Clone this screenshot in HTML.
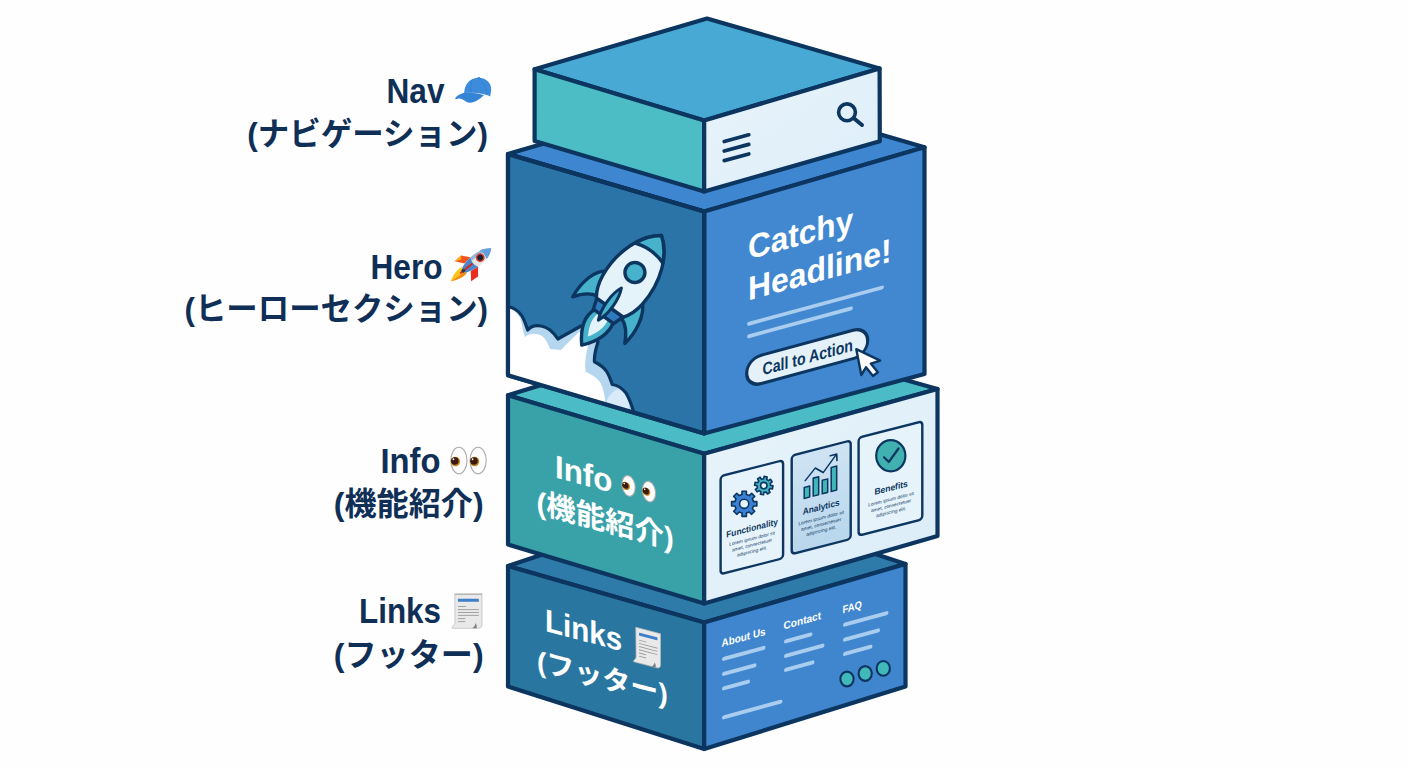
<!DOCTYPE html>
<html lang="ja">
<head>
<meta charset="utf-8">
<title>Landing page structure</title>
<style>
html,body{margin:0;padding:0;background:#ffffff;}
body{width:1408px;height:768px;overflow:hidden;font-family:"Liberation Sans",sans-serif;}
svg{display:block;}
</style>
</head>
<body>
<svg width="1408" height="768" viewBox="0 0 1408 768" role="img" aria-label="Landing page structure: Nav (ナビゲーション), Hero (ヒーローセクション), Info (機能紹介), Links (フッター)">
<rect x="0" y="0" width="1408" height="768" fill="#fefefe"/>
<defs>
<linearGradient id="gNavR" x1="0" y1="0" x2="1" y2="1"><stop offset="0" stop-color="#e9f4fb"/><stop offset="1" stop-color="#dcedf8"/></linearGradient>
<linearGradient id="gInfoR" x1="0" y1="0" x2="1" y2="1"><stop offset="0" stop-color="#e8f4fb"/><stop offset="1" stop-color="#dbecf7"/></linearGradient>
<linearGradient id="gCard2" x1="0" y1="0" x2="0" y2="1"><stop offset="0" stop-color="#cfe4f4"/><stop offset="1" stop-color="#b9d6ec"/></linearGradient>
<clipPath id="heroL"><polygon points="508,154 704,211 704,433.5 508,375.3"/></clipPath>
</defs>
<polygon points="508,566 709,499 905.5,564 704.2,622.5" fill="#2e7aa8" stroke="#0c3660" stroke-width="4.2" stroke-linejoin="round" />
<polygon points="508,566 704.2,622.5 704.2,749 508,686.5" fill="#2977a1" stroke="#0c3660" stroke-width="4.2" stroke-linejoin="round" />
<polygon points="704.2,622.5 905.5,564 905.5,686.5 704.2,749" fill="#4086ce" stroke="#0c3660" stroke-width="4.2" stroke-linejoin="round" />
<polygon points="508,395.2 724,329 937.5,389 704.2,453.8" fill="#4bbcc6" stroke="#0c3660" stroke-width="4.2" stroke-linejoin="round" />
<polygon points="508,395.2 704.2,453.8 704.2,603.5 508,544.5" fill="#39a2a9" stroke="#0c3660" stroke-width="4.2" stroke-linejoin="round" />
<polygon points="704.2,453.8 937.5,389 937.5,536 704.2,603.5" fill="url(#gInfoR)" stroke="#0c3660" stroke-width="4.2" stroke-linejoin="round" />
<polygon points="508,154 727.7,90 924.5,147.3 704.2,211.5" fill="#3f86d0" stroke="#0c3660" stroke-width="4.2" stroke-linejoin="round" />
<polygon points="508,154 704.2,211.5 704.2,433.5 508,375.3" fill="#2b74a8" stroke="#0c3660" stroke-width="4.2" stroke-linejoin="round" />
<polygon points="704.2,211.5 924.5,147.3 924.5,374 704.2,433.5" fill="#4288d1" stroke="#0c3660" stroke-width="4.2" stroke-linejoin="round" />
<polygon points="534.6,69.2 707,18.5 879.6,68.5 704.2,120.5" fill="#48a9d5" stroke="#0c3660" stroke-width="4.2" stroke-linejoin="round" />
<polygon points="534.6,69.2 704.2,120.5 704.2,191.5 534.6,141" fill="#4cbdc5" stroke="#0c3660" stroke-width="4.2" stroke-linejoin="round" />
<polygon points="704.2,120.5 879.6,68.5 879.8,141.2 704.2,191.5" fill="url(#gNavR)" stroke="#0c3660" stroke-width="4.2" stroke-linejoin="round" />
<g stroke="#0c3660" stroke-width="3.7" stroke-linecap="round" fill="none"><path d="M724.2,141.5 L748.8,134.8 M724.2,151 L748.8,144.4 M724.2,160.6 L748.8,154"/><circle cx="847" cy="112.3" r="8.4" stroke-width="3.6"/><path d="M853.8,118.3 L862,125" stroke-width="4"/></g>
<g clip-path="url(#heroL)">
<path d="M506,307 C512,306 519,311 522,316 C525,321 526,326 527.7,330 C531,326 536,325 541,326 C548,327 554,333 557.8,339 L581,326 L598,342 C596,348 594,355 594.4,361.7 C599,364 604,367 607,372 C610,377 611,381 612.2,384.5 C617,385 622,388 626,393 C629,398 631,403 633.4,411 L633.4,420 L500,380 Z" fill="#b4d7ef"/>
<path d="M506,308 C512,308 518,313 520.5,319 C522.5,325 522.5,331 525,337 C530,333 537,333 542,336 C546,339 548,344 550,349 L561,350 C566,344 572,339 579,332 L590,338 C588,346 586,353 585.5,360 C585,366 585,369 586,372 C591,374 596,377 600,382 C603,387 604,393 605,399 L606,416 L500,385 Z" fill="#ffffff"/>
<path d="M618,389 C623,391 627,396 629,404 L629,412 L606,405 C606,399 611,392 618,389 Z" fill="#d9ebf8"/>
<path d="M506,307 C512,306 519,311 522,316 C525,321 526,326 527.7,330 C531,326 536,325 541,326 C548,327 554,333 557.8,339 L581,326 L598,342 C596,348 594,355 594.4,361.7 C599,364 604,367 607,372 C610,377 611,381 612.2,384.5 C617,385 622,388 626,393 C629,398 631,403 633.4,411 L633.4,420 L500,380 Z" fill="none" stroke="#0c3660" stroke-width="3.2" stroke-linejoin="round"/>
</g>
<polygon points="508,154 704.2,211.5 704.2,433.5 508,375.3" fill="none" stroke="#0c3660" stroke-width="4.2" stroke-linejoin="round" />
<g transform="translate(609.9,307.5) rotate(35.6)"><path d="M-24.5,-27 C-33,-22 -38.5,-6 -36.5,13 C-31,5 -25,-0.5 -17,-2 Z" fill="#47b2cb" stroke="#0c3660" stroke-width="3.4" stroke-linejoin="round"/><path d="M24.5,-22 C32,-14 36.5,4 33,20.5 C29,12 24,5 16,2 Z" fill="#47b2cb" stroke="#0c3660" stroke-width="3.4" stroke-linejoin="round"/><path d="M-11,10 C-15.5,20 -13,33 -1,47 C9.5,35 14.5,22 11.5,10 Z" fill="#47b2cb" stroke="#0c3660" stroke-width="3.4" stroke-linejoin="round"/><path d="M-6,11 C-8.5,19 -6.5,27 -1,36.5 C4.5,28 7.5,19 5.5,11 Z" fill="#e4f2fa"/><path d="M-16,0 L16,0 L12.5,11 L-12.5,11 Z" fill="#2f79bd" stroke="#0c3660" stroke-width="3.4" stroke-linejoin="round"/><path d="M0,-88.5 C8,-83 15,-73.5 19.5,-62 C24,-50 26,-36 24.5,-22 C23.5,-13 21,-6 16.6,0 L-16.6,0 C-21,-6 -23.5,-13 -24.5,-22 C-26,-36 -24,-50 -19.5,-62 C-15,-73.5 -8,-83 0,-88.5 Z" fill="#e4f2fa" stroke="#0c3660" stroke-width="3.4" stroke-linejoin="round"/><path d="M0,-88.5 C7,-83.5 13,-76 17,-67 C6,-71 -6,-71 -17,-67 C-13,-76 -7,-83.5 0,-88.5 Z" fill="#47b2cb" stroke="#0c3660" stroke-width="3.4" stroke-linejoin="round"/><circle cx="0" cy="-43" r="10" fill="#47b2cb" stroke="#0c3660" stroke-width="3.4"/><path d="M-2,-22.5 C3,-12 3,6 -2,17 C-7,6 -7,-12 -2,-22.5 Z" fill="#47b2cb" stroke="#0c3660" stroke-width="3" stroke-linejoin="round"/></g>
<g transform="matrix(1,-0.272,0,1,748,259.5)" font-family="Liberation Sans, sans-serif" font-weight="bold">
<text x="0" y="0" font-size="33.5" fill="#ffffff" textLength="105.2" lengthAdjust="spacingAndGlyphs">Catchy</text>
<text x="0" y="41" font-size="33.5" fill="#ffffff" textLength="143.5" lengthAdjust="spacingAndGlyphs">Headline!</text>
<path d="M1,64.5 L134,64.5 M1,77 L103,77" stroke="#a9cdee" stroke-width="3.8" stroke-linecap="round" fill="none"/>
<rect x="-1.3" y="99.3" width="121" height="28.4" rx="14.2" fill="#e4f1f9" stroke="#0c3660" stroke-width="3.2"/>
<text x="14.5" y="119.8" font-size="17.2" fill="#0c3660" textLength="90.5" lengthAdjust="spacingAndGlyphs">Call to Action</text>
</g>
<path d="M856.3,349.2 L880.2,360.6 L870.8,363.6 L877.8,372.3 L873,376 L866,367.3 L861.3,375 Z" fill="#ffffff" stroke="#0c3660" stroke-width="2.4" stroke-linejoin="round"/>
<g transform="matrix(1,0.27,0,1,555,477.5)" fill="#ffffff" font-family="Liberation Sans, sans-serif" font-weight="bold">
<text x="0" y="0" font-size="32.3" textLength="57.3" lengthAdjust="spacingAndGlyphs">Info</text>
<g><ellipse cx="73.6" cy="-11.5" rx="6.6" ry="10.2" fill="#fcfcfc" stroke="#ababab" stroke-width="1.1"/><circle cx="70.92" cy="-10.68" r="4.0" fill="#c18a1c"/><circle cx="70.44" cy="-11.16" r="3.20" fill="#3a1a12"/><circle cx="69.24" cy="-12.68" r="0.80" fill="#ffffff"/><ellipse cx="94" cy="-11.3" rx="6.6" ry="10.2" fill="#fcfcfc" stroke="#ababab" stroke-width="1.1"/><circle cx="91.32" cy="-10.48" r="4.0" fill="#c18a1c"/><circle cx="90.84" cy="-10.96" r="3.20" fill="#3a1a12"/><circle cx="89.64" cy="-12.48" r="0.80" fill="#ffffff"/></g>
<text x="-18.5" y="39.5" font-size="29.4" font-family="'Liberation Sans', 'Noto Sans CJK JP', sans-serif" textLength="137.2" lengthAdjust="spacingAndGlyphs">(機能紹介)</text>
</g>
<g transform="matrix(1,-0.256,0,1,720.6,476.2)" font-family="Liberation Sans, sans-serif" font-weight="bold" fill="#0c3660"><rect x="0" y="0" width="62.5" height="98" rx="3.5" fill="#e7f3fb" stroke="#0c3660" stroke-width="2.4"/>
<text x="31.5" y="63" font-size="9" text-anchor="middle" textLength="51.7" lengthAdjust="spacingAndGlyphs">Functionality</text><text x="31.5" y="72.0" font-size="4.8" text-anchor="middle" font-weight="normal" textLength="45.6" lengthAdjust="spacingAndGlyphs">Lorem ipsum dolor sit</text><text x="31.5" y="78.4" font-size="4.8" text-anchor="middle" font-weight="normal" textLength="40.2" lengthAdjust="spacingAndGlyphs">amet, consectetuer</text><text x="31.5" y="84.8" font-size="4.8" text-anchor="middle" font-weight="normal" textLength="30.1" lengthAdjust="spacingAndGlyphs">adipiscing elit.</text>
</g>
<g transform="matrix(1,-0.256,0,1,791.7,455.6)" font-family="Liberation Sans, sans-serif" font-weight="bold" fill="#0c3660"><rect x="0" y="0" width="59" height="98.5" rx="3.5" fill="url(#gCard2)" stroke="#0c3660" stroke-width="2.4"/>
<text x="29.5" y="62" font-size="9" text-anchor="middle" textLength="37.0" lengthAdjust="spacingAndGlyphs">Analytics</text><text x="29.5" y="71.5" font-size="4.8" text-anchor="middle" font-weight="normal" textLength="45.6" lengthAdjust="spacingAndGlyphs">Lorem ipsum dolor sit</text><text x="29.5" y="77.9" font-size="4.8" text-anchor="middle" font-weight="normal" textLength="40.2" lengthAdjust="spacingAndGlyphs">amet, consectetuer</text><text x="29.5" y="84.3" font-size="4.8" text-anchor="middle" font-weight="normal" textLength="30.1" lengthAdjust="spacingAndGlyphs">adipiscing elit.</text>
<g transform="translate(0,-5)"><g fill="#41b5b8" stroke="#0c3660" stroke-width="1.5" stroke-linejoin="round"><rect x="12.5" y="40" width="5.5" height="11"/><rect x="21.5" y="33" width="5.5" height="18"/><rect x="30.5" y="37.5" width="5.5" height="13.5"/><rect x="39.5" y="27" width="5.5" height="24"/></g>
<path d="M13.5,33.5 L23.5,23.5 L31.5,30 L44.5,15.5 M38.5,15 L45,15 L45.3,21.5" fill="none" stroke="#0c3660" stroke-width="1.6" stroke-linecap="round" stroke-linejoin="round"/></g>
</g>
<g transform="matrix(1,-0.256,0,1,858.6,437.6)" font-family="Liberation Sans, sans-serif" font-weight="bold" fill="#0c3660"><rect x="0" y="0" width="63.7" height="98" rx="3.5" fill="#e7f3fb" stroke="#0c3660" stroke-width="2.4"/>
<text x="32.5" y="61.5" font-size="9" text-anchor="middle" textLength="33.4" lengthAdjust="spacingAndGlyphs">Benefits</text><text x="32.5" y="71.5" font-size="4.8" text-anchor="middle" font-weight="normal" textLength="45.6" lengthAdjust="spacingAndGlyphs">Lorem ipsum dolor sit</text><text x="32.5" y="77.9" font-size="4.8" text-anchor="middle" font-weight="normal" textLength="40.2" lengthAdjust="spacingAndGlyphs">amet, consectetuer</text><text x="32.5" y="84.3" font-size="4.8" text-anchor="middle" font-weight="normal" textLength="30.1" lengthAdjust="spacingAndGlyphs">adipiscing elit.</text>
</g>
<ellipse cx="890.8" cy="455.8" rx="14.6" ry="15.6" fill="#41b0b1" stroke="#0c3660" stroke-width="2.2"/>
<path d="M884,457.3 L888.8,462 L898.5,448.5" fill="none" stroke="#0c3660" stroke-width="2.2" stroke-linecap="round" stroke-linejoin="round"/>
<path d="M773.0,485.9 L772.4,489.0 L770.0,488.5 L768.8,490.2 L770.1,492.3 L767.5,494.0 L766.1,492.0 L764.0,492.4 L763.5,494.8 L760.4,494.2 L760.9,491.8 L759.2,490.6 L757.1,491.9 L755.4,489.3 L757.4,487.9 L757.0,485.8 L754.6,485.3 L755.2,482.2 L757.6,482.7 L758.8,481.0 L757.5,478.9 L760.1,477.2 L761.5,479.2 L763.6,478.8 L764.1,476.4 L767.2,477.0 L766.7,479.4 L768.4,480.6 L770.5,479.3 L772.2,481.9 L770.2,483.3 L770.6,485.4Z" fill="#43b1c3" stroke="#0c3660" stroke-width="1.6" stroke-linejoin="round"/><circle cx="763.8" cy="485.6" r="3.2" fill="#e7f3fb" stroke="#0c3660" stroke-width="1.6"/>
<path d="M756.8,501.6 L756.8,506.0 L753.5,506.0 L752.4,508.8 L754.7,511.2 L751.6,514.3 L749.2,512.0 L746.4,513.1 L746.4,516.4 L742.0,516.4 L742.0,513.1 L739.2,512.0 L736.8,514.3 L733.7,511.2 L736.0,508.8 L734.9,506.0 L731.6,506.0 L731.6,501.6 L734.9,501.6 L736.0,498.8 L733.7,496.4 L736.8,493.3 L739.2,495.6 L742.0,494.5 L742.0,491.2 L746.4,491.2 L746.4,494.5 L749.2,495.6 L751.6,493.3 L754.7,496.4 L752.4,498.8 L753.5,501.6Z" fill="#3b80d2" stroke="#0c3660" stroke-width="1.6" stroke-linejoin="round"/><circle cx="744.2" cy="503.8" r="4.6" fill="#e7f3fb" stroke="#0c3660" stroke-width="1.6"/>
<g transform="matrix(1,0.262,0,1,545,631)" fill="#ffffff" font-family="Liberation Sans, sans-serif" font-weight="bold">
<text x="0" y="0" font-size="32" textLength="77.2" lengthAdjust="spacingAndGlyphs">Links</text>
<g transform="translate(88.5,-27.5)"><path d="M2.3,0 L27,0 L27,31 C27,33.5 25.5,35 23.5,35 L0.6,35 C-0.2,35 -0.2,34 0.6,33.3 C2,32 2.6,30.8 2.6,29 Z" fill="#e9e9e9" stroke="#b9b9b9" stroke-width="0.7"/><rect x="5.5" y="4.5" width="18.5" height="3" rx="0.6" fill="#3f7fca"/><path d="M5.5,12 H13 M5.5,15.2 H24 M5.5,18.4 H24 M5.5,21.6 H24 M5.5,24.8 H12.5 M5.5,28 H12.5" stroke="#9b9b9b" stroke-width="0.9"/><path d="M18,35 C19.8,33.8 20.8,32 21.2,30 C22.2,31.6 22.6,33.3 22.2,35 Z" fill="#7b8088"/></g>
<text x="-8" y="41.5" font-size="28" font-family="'Liberation Sans', 'Noto Sans CJK JP', sans-serif" textLength="130.7" lengthAdjust="spacingAndGlyphs">(フッター)</text>
</g>
<g transform="matrix(1,-0.275,0,1,721.5,647)" font-family="Liberation Sans, sans-serif" font-weight="bold" fill="#ffffff">
<text x="0" y="0" font-size="10.8" textLength="44.1" lengthAdjust="spacingAndGlyphs">About Us</text>
<text x="62" y="-0.5" font-size="10.8" textLength="37.6" lengthAdjust="spacingAndGlyphs">Contact</text>
<text x="121" y="-0.3" font-size="10.8" textLength="19.4" lengthAdjust="spacingAndGlyphs">FAQ</text>
<g stroke="#a9cdee" stroke-width="4" stroke-linecap="round" fill="none"><path d="M2.5,12.5 H42 M2.5,27.5 H33 M2.5,42 H26.5 M2.5,71 H59"/><path d="M64.5,12 H89 M64.5,26.5 H101 M64.5,40.5 H91"/><path d="M123.5,11.5 H165 M123.5,26.5 H156.5 M123.5,40.8 H149"/></g>
</g>
<g fill="#41b8b9" stroke="#0c3660" stroke-width="2.1"><ellipse cx="847" cy="679" rx="6.6" ry="7.4"/><ellipse cx="865.2" cy="673.5" rx="6.6" ry="7.4"/><ellipse cx="883.3" cy="668.4" rx="6.6" ry="7.4"/></g>
<g fill="#0f2f57" font-family="Liberation Sans, sans-serif" font-weight="bold">
<text x="386.5" y="103" font-size="34.5" textLength="58" lengthAdjust="spacingAndGlyphs">Nav</text><text x="247.3" y="145.3" font-size="31.4" font-family="'Liberation Sans', 'Noto Sans CJK JP', sans-serif" textLength="240.7" lengthAdjust="spacingAndGlyphs">(ナビゲーション)</text>
<text x="370.5" y="278.5" font-size="34.5" textLength="72" lengthAdjust="spacingAndGlyphs">Hero</text><text x="184.5" y="320.3" font-size="31.4" font-family="'Liberation Sans', 'Noto Sans CJK JP', sans-serif" textLength="303.5" lengthAdjust="spacingAndGlyphs">(ヒーローセクション)</text>
<text x="380.5" y="473" font-size="34.5" textLength="60" lengthAdjust="spacingAndGlyphs">Info</text><text x="333.8" y="515.3" font-size="32.1" font-family="'Liberation Sans', 'Noto Sans CJK JP', sans-serif" textLength="149.8" lengthAdjust="spacingAndGlyphs">(機能紹介)</text>
<text x="359" y="623" font-size="34.5" textLength="82" lengthAdjust="spacingAndGlyphs">Links</text><text x="333.8" y="666" font-size="32.1" font-family="'Liberation Sans', 'Noto Sans CJK JP', sans-serif" textLength="149.8" lengthAdjust="spacingAndGlyphs">(フッター)</text>
</g>
<g><title>cap</title><path d="M464.2,93 C464.6,84 470,77.9 478.6,77.8 C486.6,77.8 491.6,83.5 491.2,90 L490.2,96.6 C484,93.6 476,92.4 464.2,93 Z" fill="#3d8cdc"/><path d="M472.5,79.2 C471,83 470.6,88 471,92.6 M478.6,77.8 C484,82 486.5,88.5 486.5,95" fill="none" stroke="#3079c8" stroke-width="0.6"/><path d="M464.5,92.6 C460,94 456.5,96 455.2,98.3 C455,99.3 456,99.3 457.5,98.8 C460.5,97.8 463,99.5 465.8,101.4 C468,102.8 470.5,103 473,102.3 C477.5,101 481,98 483.9,95.2 C478,93 471,92.3 464.5,92.6 Z" fill="#3583d4"/><ellipse cx="478.8" cy="77.6" rx="1.3" ry="0.7" fill="#3583d4"/></g>
<g transform="translate(477.3,259.6) rotate(51)"><title>rocket</title><path d="M-5,3 L-13.5,10 L-13,18.5 L-5,12.5 Z" fill="#f2531f"/><path d="M-10,12.5 L-13.5,10 L-13,18.5 Z" fill="#fbb017"/><path d="M5,3 L13.5,10 L13,18.5 L5,12.5 Z" fill="#ea2d1c"/><path d="M-3.6,16 C-5.5,23 -2.5,29 0,34.5 C2.5,29 5.5,23 3.6,16 Z" fill="#fdc51c"/><path d="M1,16 C1.5,23 1,28 0,34.5 C2.5,29 5.5,23 3.6,16 Z" fill="#f58a1c"/><path d="M0,-18 C5,-13 6.6,-4 6.1,4 C5.7,10 4.2,14.5 2.8,17.3 L-2.8,17.3 C-4.2,14.5 -5.7,10 -6.1,4 C-6.6,-4 -5,-13 0,-18 Z" fill="#e3e5e2"/><path d="M0,-18 C2.8,-15.2 4.6,-11.5 5.6,-7.5 C2,-9 -2,-9 -5.6,-7.5 C-4.6,-11.5 -2.8,-15.2 0,-18 Z" fill="#5e9fdc"/><path d="M-6.1,4 C-5.7,10 -4.2,14.5 -2.8,17.3 L2.8,17.3 C4.2,14.5 5.7,10 6.1,4 C2,6 -2,6 -6.1,4 Z" fill="#4a86c9"/><path d="M-6.1,4 C-6.6,-4 -5,-13 0,-18 C-2.2,-12 -3,-3 -2.6,5.3 C-3.8,5 -5,4.6 -6.1,4 Z" fill="#6ea6dd" opacity="0.7"/><circle cx="0.3" cy="-3.5" r="4.4" fill="#e23a2a"/><circle cx="0.3" cy="-3.5" r="2.9" fill="#172230"/><path d="M0,7 L0,21" stroke="#d8281c" stroke-width="2" stroke-linecap="round"/><circle cx="-0.2" cy="17.8" r="1.9" fill="#1f3b57"/></g>
<g><title>eyes</title><ellipse cx="458.9" cy="460.5" rx="8.1" ry="13.3" fill="#fcfcfc" stroke="#ababab" stroke-width="1.1"/><circle cx="455.41" cy="461.56" r="4.7" fill="#c18a1c"/><circle cx="454.84" cy="461.00" r="3.76" fill="#3a1a12"/><circle cx="453.43" cy="459.21" r="0.94" fill="#ffffff"/><ellipse cx="478.1" cy="460.5" rx="8.1" ry="13.3" fill="#fcfcfc" stroke="#ababab" stroke-width="1.1"/><circle cx="474.61" cy="461.56" r="4.7" fill="#c18a1c"/><circle cx="474.04" cy="461.00" r="3.76" fill="#3a1a12"/><circle cx="472.63" cy="459.21" r="0.94" fill="#ffffff"/></g>
<g><title>page</title><path d="M454.8,594 L482,594 L482,624.5 C482,627 480.5,628.3 478.5,628.3 L452.6,628.3 C451.8,628.3 451.8,627.3 452.6,626.6 C454.3,625.2 455,624 455,622 Z" fill="#e9e9e9" stroke="#b9b9b9" stroke-width="0.7"/><path d="M454.8,594.2 L482,594.2" stroke="#a3a3a3" stroke-width="0.9"/><rect x="457.9" y="598.8" width="21" height="3" rx="0.6" fill="#3f7fca"/><path d="M457.9,606.5 H466 M457.9,609.6 H478.9 M457.9,612.5 H478.9 M457.9,615.4 H478.9 M457.9,618.6 H465.3 M457.9,621.6 H465.3" stroke="#9b9b9b" stroke-width="0.9"/><path d="M472.3,628.3 C474.2,627 475.2,625 475.6,623 C476.6,624.6 477,626.5 476.6,628.3 Z" fill="#7b8088"/></g>
</svg>
</body>
</html>
